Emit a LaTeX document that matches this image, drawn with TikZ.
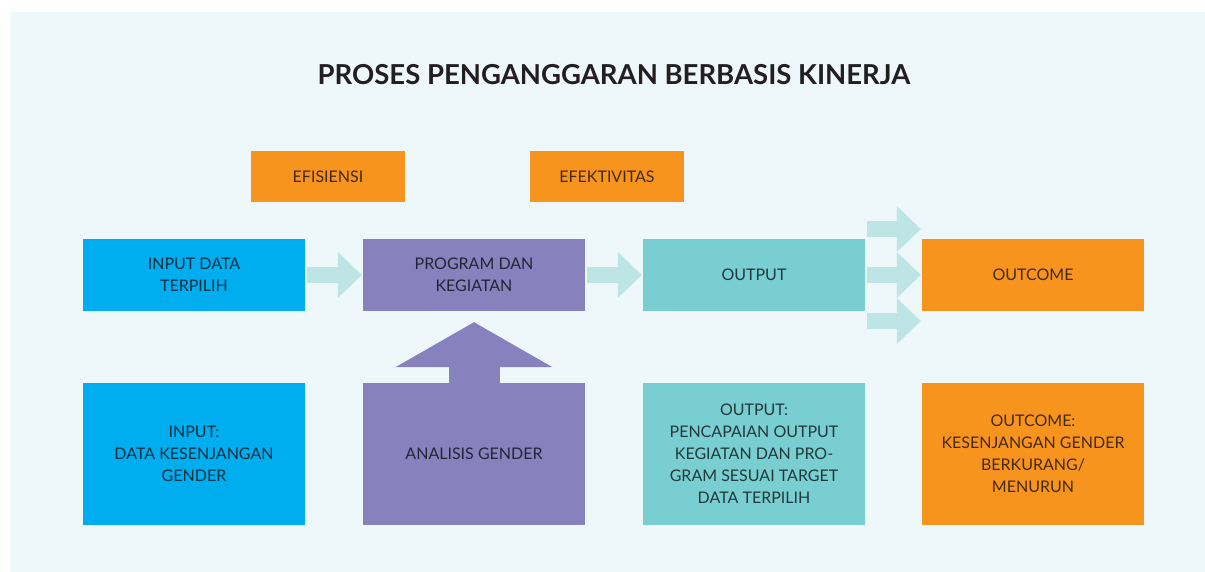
\documentclass[tikz,border=0pt]{standalone}
\usepackage{fontspec}
\setmainfont{Lato}
\usetikzlibrary{arrows.meta}
\definecolor{bg}{HTML}{EEF7F9}
\definecolor{cyanbox}{HTML}{00AEEF}
\definecolor{purplebox}{HTML}{8781BD}
\definecolor{tealbox}{HTML}{79CED1}
\definecolor{orangebox}{HTML}{F7941D}
\definecolor{fatarrow}{HTML}{BDE5E5}
\definecolor{titleink}{HTML}{231F20}
\begin{document}
\begin{tikzpicture}[x=1pt,y=-1pt,
  box/.style={minimum width=222pt, minimum height=72pt, inner sep=0pt, align=center,
    text=black, text opacity=0.72, font=\fontsize{16}{22}\selectfont},
  tallbox/.style={box, minimum height=142pt},
  tagbox/.style={box, minimum width=154pt, minimum height=51pt, fill=orangebox},
  flow/.style={draw=fatarrow, line width=16pt,
    -{Triangle[length=24pt,width=46pt,line width=0pt]}, shorten <=2pt, shorten >=1pt},
  lift/.style={draw=purplebox, line width=51pt,
    -{Triangle[length=45pt,width=157pt,line width=0pt]}, shorten >=11pt},
]
\useasboundingbox (0,0) rectangle (1205,572);
\fill[white] (0,0) rectangle (1205,572);
\fill[bg] (10,12) rectangle (1205,572);

% title
\node[font=\fontsize{27.5}{32}\selectfont\bfseries, text=titleink] (title) at (614,75)
  {PROSES PENGANGGARAN BERBASIS KINERJA};

% criteria tags
\node[tagbox] (efi) at (328,176.5) {EFISIENSI};
\node[tagbox] (efk) at (607,176.5) {EFEKTIVITAS};

% process chain
\node[box, fill=cyanbox]   (inp)  at (194,275)  {INPUT DATA\\TERPILIH};
\node[box, fill=purplebox] (prog) at (474,275)  {PROGRAM DAN\\KEGIATAN};
\node[box, fill=tealbox]   (out)  at (754,275)  {OUTPUT};
\node[box, fill=orangebox] (outc) at (1033,275) {OUTCOME};

% gender perspective
\node[tallbox, fill=cyanbox]   (inpg)  at (194,454)  {INPUT:\\DATA KESENJANGAN\\GENDER};
\node[tallbox, fill=purplebox] (ana)   at (474,454)  {ANALISIS GENDER};
\node[tallbox, fill=tealbox]   (outg)  at (754,454)  {OUTPUT:\\PENCAPAIAN OUTPUT\\KEGIATAN DAN PRO-\\GRAM SESUAI TARGET\\DATA TERPILIH};
\node[tallbox, fill=orangebox] (outcg) at (1033,454) {OUTCOME:\\KESENJANGAN GENDER\\BERKURANG/\\MENURUN};

% connectors
\draw[flow] (inp.east) -- (prog.west);
\draw[flow] (prog.east) -- (out.west);
\draw[flow] (out.east) -- (outc.west);
\draw[flow] ([yshift=46pt]out.east) -- ([yshift=46pt]outc.west);
\draw[flow] ([yshift=-46pt]out.east) -- ([yshift=-46pt]outc.west);
\draw[lift] (ana.north) -- (prog.south);
\end{tikzpicture}
\end{document}
